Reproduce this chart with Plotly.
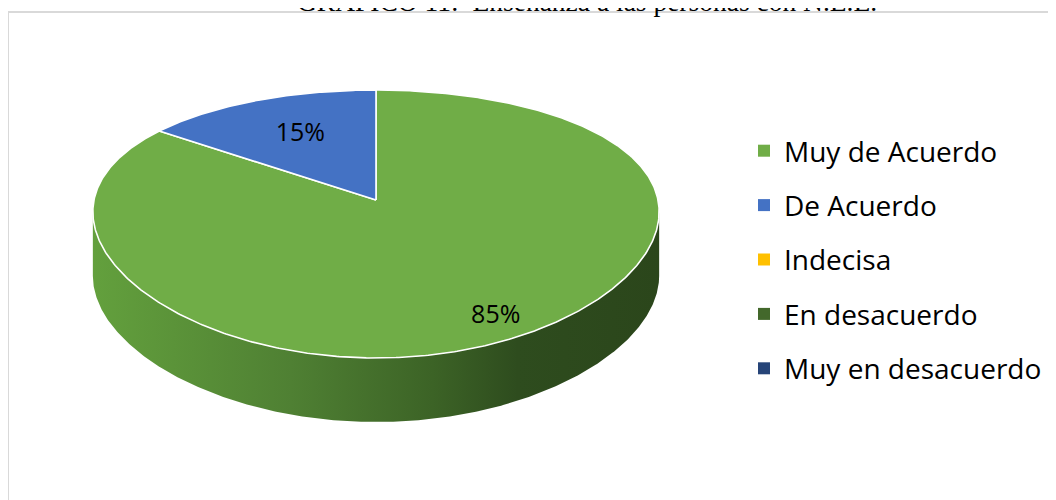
import numpy as np
import plotly.graph_objects as go

# ---- data ----
categories = ["Muy de Acuerdo", "De Acuerdo", "Indecisa", "En desacuerdo", "Muy en desacuerdo"]
values = [85, 15, 0, 0, 0]
colors = ["#70AD47", "#4472C4", "#FFC000", "#43682B", "#264478"]
title_text = "GRÁFICO 11:  Enseñanza a las personas con N.E.E."

# ---- geometry (pixel-space axes) ----
OFF = 8                    # page body margin
CX, CY = 376.0, 200.0      # apex of the pie
A, K = 93.9, 0.179         # vertical projection
RX, KX = 282.0, 0.09       # horizontal projection
DEPTH = 64.0               # thickness of the pie
label_r = [0.87, 0.62]     # label radius fraction per slice


def proj(theta_deg, r=1.0):
    t = np.radians(theta_deg)
    u = r * np.sin(t)
    v = -r * np.cos(t)
    x = CX + RX * u / (1 - KX * v)
    y = (A * v + CY) / (1 - K * v)
    return x, y


fig = go.Figure()

# side wall (front visible part)
tg = np.linspace(0, 360, 3601)
xg, yg = proj(tg)
t_right = tg[np.argmax(xg)]
t_left = tg[np.argmin(xg)]
ts = np.linspace(t_right, t_left, 400)
xs, ys = proj(ts)
side_x = np.concatenate([xs, xs[::-1]])
side_y = np.concatenate([ys, (ys + DEPTH)[::-1]])
fig.add_trace(go.Scatter(
    x=side_x, y=side_y, mode="lines", fill="toself",
    line=dict(width=0, color="rgba(0,0,0,0)"),
    fillgradient=dict(type="horizontal", colorscale=[
        [0.0, "#63a03d"], [0.35, "#4f8033"], [0.6, "#3c6326"], [0.75, "#2e4c1e"], [1.0, "#2b461b"]]),
    showlegend=False, hoverinfo="skip"))

# top face slices
total = sum(values)
start = 0.0
mids = []
for cat, val, col in zip(categories, values, colors):
    if val <= 0:
        mids.append(None)
        continue
    end = start + val / total * 360.0
    tt = np.linspace(start, end, max(int(end - start) * 2, 10))
    ax, ay = proj(tt)
    px = np.concatenate([[CX], ax, [CX]])
    py = np.concatenate([[CY], ay, [CY]])
    fig.add_trace(go.Scatter(
        x=px, y=py, mode="lines", fill="toself", fillcolor=col,
        line=dict(color="white", width=1.6),
        showlegend=False, name=cat, hoverinfo="name"))
    mids.append((start + end) / 2)
    start = end

# data labels
lx, ly, lt = [], [], []
i = 0
for val, m in zip(values, mids):
    if m is None:
        continue
    x, y = proj(m, label_r[i])
    lx.append(float(x)); ly.append(float(y)); lt.append(f"{round(val / total * 100)}%")
    i += 1
fig.add_trace(go.Scatter(
    x=lx, y=ly, mode="text", text=lt,
    textfont=dict(family="Open Sans", size=25, color="#000000"),
    showlegend=False, hoverinfo="skip"))

# legend entries
for cat, col in zip(categories, colors):
    fig.add_trace(go.Scatter(
        x=[None], y=[None], mode="markers", name=cat, legendgroup=cat,
        marker=dict(symbol="square", size=12, color=col)))

fig.add_shape(type="rect", x0=8, y0=12, x1=1080, y1=530,
              line=dict(color="#d9d9d9", width=2), layer="below")

fig.add_annotation(x=(587 - OFF) / 1056, y=1, xref="paper", yref="paper", yshift=7,
                   text=title_text, showarrow=False, xanchor="center", yanchor="middle",
                   font=dict(family="Liberation Serif", size=27.5, color="#000000"))

fig.update_layout(
    width=1056, height=500,
    margin=dict(l=0, r=0, t=0, b=0),
    paper_bgcolor="white", plot_bgcolor="white",
    xaxis=dict(range=[OFF, 1056 + OFF], visible=False, fixedrange=True),
    yaxis=dict(range=[500 + OFF, OFF], visible=False, fixedrange=True),
    showlegend=True,
    legend=dict(x=(744 - OFF) / 1056, y=1 - (126 - OFF) / 500, xanchor="left", yanchor="top",
                font=dict(family="Open Sans", size=28, color="#000000"),
                tracegroupgap=15, bgcolor="rgba(0,0,0,0)"),
)

fig.write_html("out.html")
